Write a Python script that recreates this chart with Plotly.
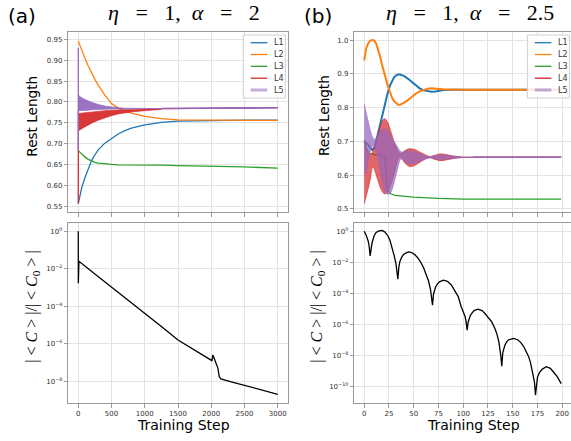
import plotly.graph_objects as go

W, H = 571, 441

# ---------------- Panel (a): eta = 1, alpha = 2 ----------------
a_steps = [0, 25, 50, 100, 150, 200, 250, 300, 400, 500, 600, 700, 800, 1000, 1250, 1500, 2000, 2500, 3000]
a_L1 = [0.555, 0.575, 0.593, 0.618, 0.640, 0.659, 0.673, 0.685, 0.701, 0.713, 0.723, 0.731, 0.737, 0.745, 0.751, 0.754, 0.7555, 0.756, 0.756]
a_L2 = [0.946, 0.935, 0.924, 0.905, 0.886, 0.869, 0.854, 0.840, 0.816, 0.796, 0.785, 0.778, 0.773, 0.765, 0.760, 0.757, 0.756, 0.7555, 0.7555]
a_L3 = [0.683, 0.679, 0.675, 0.668, 0.662, 0.658, 0.655, 0.653, 0.651, 0.650, 0.649, 0.649, 0.648, 0.648, 0.648, 0.647, 0.646, 0.644, 0.641]

a_band_steps = [2, 25, 50, 100, 150, 200, 300, 400, 500, 600, 700, 800, 1000, 1250]
a_L4_upper = [0.772, 0.772, 0.773, 0.774, 0.775, 0.776, 0.778, 0.779, 0.780, 0.781, 0.782, 0.782, 0.783, 0.7835]
a_L4_lower = [0.731, 0.733, 0.736, 0.741, 0.745, 0.749, 0.756, 0.762, 0.767, 0.771, 0.774, 0.776, 0.779, 0.782]
a_L5_upper = [0.816, 0.813, 0.810, 0.806, 0.802, 0.799, 0.794, 0.790, 0.788, 0.786, 0.785, 0.7845, 0.784, 0.784]
a_L5_lower = [0.779, 0.779, 0.7795, 0.780, 0.780, 0.781, 0.782, 0.782, 0.783, 0.783, 0.783, 0.7835, 0.784, 0.784]

a_spike_steps = [0, 1, 2]
a_L4_spike = [0.557, 0.780, 0.731]
a_L5_spike = [0.930, 0.684, 0.816]

a_tail_steps = [1250, 1500, 2000, 2500, 3000]
a_L45_tail = [0.784, 0.7845, 0.785, 0.7855, 0.786]

a_C_steps = [0, 1, 10, 250, 500, 750, 1000, 1250, 1500, 1750, 2010, 2025, 2045, 2060, 2085, 2100, 2120, 2145, 2300, 2500, 2750, 3000]
a_C_ratio = [1.0, 1.7e-3, 2.51e-2, 5.25e-3, 1.07e-3, 2.14e-4, 4.17e-5, 8.32e-6, 1.58e-6, 4.79e-7, 1.26e-7, 2.51e-7,
             1.58e-7, 1.0e-7, 7.08e-8, 5.01e-8, 1.78e-8, 1.32e-8, 9.33e-9, 6.03e-9, 3.55e-9, 2.0e-9]

# ---------------- Panel (b): eta = 1, alpha = 2.5 ----------------
b_L1_steps = [0, 4, 8, 10, 12, 14, 16, 18, 20, 22, 24, 26, 28, 30, 32, 34, 36, 38, 40, 44, 48, 52, 56, 60, 64, 68, 72, 76, 80, 90, 100, 150, 199]
b_L1 = [0.700, 0.690, 0.675, 0.680, 0.700, 0.725, 0.750, 0.775, 0.800, 0.825, 0.847, 0.865, 0.880, 0.889, 0.895, 0.898, 0.898, 0.897,
        0.894, 0.886, 0.876, 0.865, 0.857, 0.851, 0.848, 0.847, 0.848, 0.850, 0.852, 0.853, 0.853, 0.853, 0.853]
b_L2_steps = [0, 2, 4, 6, 8, 10, 12, 14, 16, 18, 20, 22, 24, 26, 28, 30, 32, 34, 36, 38, 40, 44, 48, 52, 56, 60, 64, 68, 72, 76, 80, 90, 100, 150, 199]
b_L2 = [0.940, 0.975, 0.990, 0.998, 1.000, 0.999, 0.990, 0.972, 0.952, 0.927, 0.903, 0.880, 0.863, 0.847, 0.830, 0.820, 0.813,
        0.809, 0.808, 0.810, 0.814, 0.822, 0.832, 0.841, 0.848, 0.853, 0.856, 0.857, 0.857, 0.855, 0.854, 0.853, 0.853, 0.853, 0.853]
b_L3_steps = [0, 3, 6, 10, 15, 19, 21, 22, 23, 25, 27, 31, 40, 50, 75, 100, 150, 199]
b_L3 = [0.700, 0.675, 0.664, 0.661, 0.660, 0.658, 0.655, 0.600, 0.565, 0.552, 0.545, 0.540, 0.537, 0.535, 0.531, 0.529, 0.529, 0.529]

b_band_steps = [0, 2, 4, 6, 8, 10, 12, 14, 16, 18, 20, 22, 24, 26, 28, 30, 32, 34, 36, 38, 40, 43, 46, 49, 52, 55, 58, 61, 64, 67,
                70, 73, 76, 79, 82, 85, 88, 91, 95, 100, 110]
b_L4_upper = [0.705, 0.680, 0.665, 0.660, 0.665, 0.680, 0.700, 0.725, 0.745, 0.760, 0.767, 0.765, 0.755, 0.740, 0.720, 0.700, 0.685,
              0.672, 0.665, 0.665, 0.670, 0.676, 0.679, 0.678, 0.675, 0.670, 0.665, 0.660, 0.657, 0.655, 0.658, 0.661, 0.663, 0.663,
              0.662, 0.660, 0.658, 0.656, 0.654, 0.6535, 0.653]
b_L4_lower = [0.515, 0.535, 0.560, 0.585, 0.625, 0.620, 0.600, 0.580, 0.565, 0.552, 0.545, 0.545, 0.550, 0.565, 0.580, 0.600, 0.625,
              0.645, 0.655, 0.650, 0.640, 0.630, 0.625, 0.626, 0.630, 0.636, 0.642, 0.647, 0.650, 0.652, 0.648, 0.645, 0.643, 0.643,
              0.644, 0.646, 0.648, 0.650, 0.652, 0.6525, 0.653]
b_L5_upper = [0.812, 0.790, 0.760, 0.735, 0.715, 0.705, 0.710, 0.720, 0.730, 0.735, 0.737, 0.735, 0.730, 0.720, 0.710, 0.700, 0.690,
              0.680, 0.672, 0.668, 0.670, 0.672, 0.672, 0.671, 0.668, 0.665, 0.662, 0.658, 0.656, 0.655, 0.657, 0.659, 0.660, 0.660,
              0.659, 0.657, 0.656, 0.655, 0.654, 0.6535, 0.653]
b_L5_lower = [0.600, 0.610, 0.640, 0.670, 0.685, 0.690, 0.670, 0.640, 0.610, 0.580, 0.560, 0.548, 0.542, 0.545, 0.555, 0.575, 0.600,
              0.625, 0.645, 0.648, 0.642, 0.635, 0.632, 0.633, 0.636, 0.640, 0.644, 0.648, 0.650, 0.651, 0.649, 0.647, 0.646, 0.646,
              0.647, 0.649, 0.650, 0.651, 0.652, 0.6525, 0.653]
b_tail_steps = [110, 150, 199]
b_L45_tail = [0.653, 0.653, 0.653]

b_C_steps = [0, 2, 4, 5, 6, 7, 8, 10, 12, 15, 18, 21, 24, 26, 28, 30, 32, 33, 34, 35, 36, 38, 40, 43, 45, 48, 51, 54, 57, 60, 63,
             65, 67, 68, 69, 70, 72, 74, 76, 80, 84, 88, 92, 95, 98, 100, 102, 103, 104, 105, 107, 109, 111, 115, 119, 122, 126,
             129, 132, 134, 136, 137, 138, 139, 140, 142, 144, 146, 151, 155, 158, 161, 164, 166, 168, 170, 172, 173, 174, 175,
             177, 180, 184, 188, 191, 195, 199]
b_C_ratio = [1.0, 5.62e-1, 2.40e-1, 1.12e-1, 2.63e-2, 7.94e-2, 1.91e-1, 5.01e-1, 8.32e-1, 1.07, 1.12, 8.91e-1, 5.01e-1, 2.63e-1,
             1.0e-1, 3.16e-2, 8.91e-3, 3.16e-3, 8.32e-4, 5.01e-3, 1.12e-2, 2.24e-2, 3.31e-2, 4.27e-2, 4.68e-2, 4.27e-2, 3.16e-2,
             2.00e-2, 1.05e-2, 4.47e-3, 1.41e-3, 6.31e-4, 1.78e-4, 6.31e-5, 1.78e-5, 8.91e-5, 2.51e-4, 4.17e-4, 5.62e-4, 7.08e-4,
             6.03e-4, 3.55e-4, 1.41e-4, 6.31e-5, 1.41e-5, 6.31e-6, 3.16e-6, 1.41e-6, 4.37e-7, 1.41e-6, 3.55e-6, 5.62e-6, 7.94e-6,
             9.77e-6, 7.94e-6, 5.13e-6, 2.51e-6, 1.41e-6, 5.62e-7, 2.51e-7, 7.94e-8, 3.16e-8, 1.0e-8, 2.09e-9, 1.58e-8, 4.47e-8,
             7.94e-8, 1.05e-7, 1.26e-7, 1.05e-7, 7.08e-8, 3.98e-8, 1.78e-8, 8.91e-9, 3.55e-9, 1.0e-9, 2.0e-10, 2.88e-11, 1.58e-10,
             3.98e-10, 7.94e-10, 1.35e-9, 1.91e-9, 1.51e-9, 9.12e-10, 4.47e-10, 1.58e-10]

# ---------------- Tick labels ----------------
a_x_ticks = [0, 500, 1000, 1500, 2000, 2500, 3000]
b_x_ticks = [0, 25, 50, 75, 100, 125, 150, 175, 200]
a_log_tickvals = [1, 1e-2, 1e-4, 1e-6, 1e-8]
a_log_ticktext = ["10<sup>0</sup>", "10<sup>−2</sup>", "10<sup>−4</sup>", "10<sup>−6</sup>", "10<sup>−8</sup>"]
b_log_tickvals = [1, 1e-2, 1e-4, 1e-6, 1e-8, 1e-10]
b_log_ticktext = ["10<sup>0</sup>", "10<sup>−2</sup>", "10<sup>−4</sup>", "10<sup>−6</sup>", "10<sup>−8</sup>", "10<sup>−10</sup>"]
legend_names = ["L1", "L2", "L3", "L4", "L5"]

C1, C2, C3, C4, C5 = "#1f77b4", "#ff7f0e", "#2ca02c", "#d62728", "#9467bd"


def px(x):
    return x / W


def py(y):
    return 1 - y / H


fig = go.Figure()


def line(x, y, color, xa, ya, width=1.3, **kw):
    fig.add_trace(go.Scatter(x=x, y=y, mode="lines", line=dict(color=color, width=width),
                             xaxis=xa, yaxis=ya, showlegend=False, hoverinfo="skip", **kw))


def band(x, up, lo, color, fill, xa, ya):
    line(x, up, color, xa, ya, width=0.6)
    line(x, lo, color, xa, ya, width=0.6, fill="tonexty", fillcolor=fill)


# Panel (a) top
line(a_steps, a_L1, C1, "x", "y")
line(a_steps, a_L2, C2, "x", "y")
line(a_steps, a_L3, C3, "x", "y")
line(a_spike_steps, a_L4_spike, C4, "x", "y")
band(a_band_steps, a_L4_upper, a_L4_lower, C4, "rgba(214,39,40,0.92)", "x", "y")
line(a_tail_steps, a_L45_tail, C4, "x", "y")
line(a_spike_steps, a_L5_spike, C5, "x", "y")
band(a_band_steps, a_L5_upper, a_L5_lower, C5, "rgba(148,103,189,0.92)", "x", "y")
line(a_tail_steps, a_L45_tail, C5, "x", "y", width=1.6)

# Panel (b) top
line(b_L1_steps, b_L1, C1, "x2", "y2", width=2.0)
line(b_L2_steps, b_L2, C2, "x2", "y2", width=2.0)
line(b_L3_steps, b_L3, C3, "x2", "y2")
band(b_band_steps, b_L4_upper, b_L4_lower, C4, "rgba(214,39,40,0.7)", "x2", "y2")
line(b_tail_steps, b_L45_tail, C4, "x2", "y2")
band(b_band_steps, b_L5_upper, b_L5_lower, "rgba(148,103,189,0.85)", "rgba(148,103,189,0.72)", "x2", "y2")
line(b_tail_steps, b_L45_tail, C5, "x2", "y2", width=1.6)

# Bottom panels
line(a_C_steps, a_C_ratio, "black", "x3", "y3", width=1.3)
line(b_C_steps, b_C_ratio, "black", "x4", "y4", width=1.3)

tickfont = dict(family="DejaVu Sans", size=7, color="#333333")
common_ax = dict(showline=True, linecolor="#999999", linewidth=1, ticks="outside", ticklen=3.5,
                 tickcolor="#999999", tickwidth=1, showgrid=True, gridcolor="#e3e3e3", gridwidth=1,
                 zeroline=False, tickfont=tickfont)

xa_dom = [px(68.3), px(287.7)]
xb_dom = [px(354.3), 1.0]
top_dom = [py(212.3), py(32.3)]
bot_dom = [py(403.3), py(223.3)]

fig.update_layout(
    width=W, height=H, margin=dict(l=0, r=0, t=0, b=0),
    paper_bgcolor="white", plot_bgcolor="white", showlegend=False,
    xaxis=dict(domain=xa_dom, anchor="y", range=[-150, 3150], tickvals=a_x_ticks, showticklabels=False,
               mirror=True, **common_ax),
    yaxis=dict(domain=top_dom, anchor="x", range=[0.535, 0.967], dtick=0.05, tick0=0.55, tickformat=".2f",
               mirror=True, **common_ax),
    xaxis2=dict(domain=xb_dom, anchor="y2", range=[-10, 208.9], tickvals=b_x_ticks, showticklabels=False,
                mirror=True, **common_ax),
    yaxis2=dict(domain=top_dom, anchor="x2", range=[0.49, 1.023], dtick=0.1, tick0=0.5, tickformat=".1f",
                mirror=False, **common_ax),
    xaxis3=dict(domain=xa_dom, anchor="y3", range=[-150, 3150], tickvals=a_x_ticks, mirror=True, **common_ax),
    yaxis3=dict(domain=bot_dom, anchor="x3", type="log", range=[-9.18, 0.43], tickvals=a_log_tickvals,
                ticktext=a_log_ticktext, mirror=True, **common_ax),
    xaxis4=dict(domain=xb_dom, anchor="y4", range=[-10, 208.9], tickvals=b_x_ticks, mirror=True, **common_ax),
    yaxis4=dict(domain=bot_dom, anchor="x4", type="log", range=[-11.07, 0.515], tickvals=b_log_tickvals,
                ticktext=b_log_ticktext, mirror=False, **common_ax),
)

ann = []


def text(x, y, s, size, family="DejaVu Sans", angle=0, xanchor="center", color="black"):
    ann.append(dict(x=px(x), y=py(y), xref="paper", yref="paper", text=s, showarrow=False,
                    font=dict(family=family, size=size, color=color), textangle=angle,
                    xanchor=xanchor, yanchor="middle"))


serif = "Liberation Serif"
text(22, 16, "(a)", 20)
text(317.5, 16, "(b)", 20)
s2 = "&nbsp;" * 2
s3 = "&nbsp;" * 3
text(183.5, 13, f"<i>η</i>{s3}={s3}1,{s2}<i>α</i>{s3}={s3}2", 22, family=serif)
text(470, 13, f"<i>η</i>{s3}={s3}1,{s2}<i>α</i>{s3}={s3}2.5", 22, family=serif)
text(31.7, 116, "Rest Length", 13.6, angle=-90)
text(324, 116, "Rest Length", 13.6, angle=-90)
sp = "&nbsp;"
ylab = f"|{sp}<{sp}<i>C</i>{sp}>{sp}|/|{sp}<{sp}<i>C</i><sub>0</sub>{sp}>{sp}|"
text(31.7, 307, ylab, 16, family=serif, angle=-90)
text(316.7, 307, ylab, 16, family=serif, angle=-90)
text(183.3, 425, "Training Step", 14)
text(473.3, 425, "Training Step", 14)

# Legends (drawn as boxes with sample lines)
shapes = []
legend_colors = [C1, C2, C3, C4, "rgba(148,103,189,0.55)"]
legend_widths = [1.3, 1.3, 1.3, 1.3, 3]
row_y = [42.7, 54.5, 66.3, 78.2, 90.0]
for (bx0, bx1, lx0, lx1, tx) in [(243.3, 285.3, 250.7, 267.3, 272.0), (527.4, 569.4, 534.8, 551.4, 556.2)]:
    shapes.append(dict(type="rect", xref="paper", yref="paper", x0=px(bx0), x1=px(bx1), y0=py(98), y1=py(35),
                       line=dict(color="#d0d0d0", width=1), fillcolor="rgba(255,255,255,0.85)", layer="above"))
    for name, col, lw, yy in zip(legend_names, legend_colors, legend_widths, row_y):
        shapes.append(dict(type="line", xref="paper", yref="paper", x0=px(lx0), x1=px(lx1), y0=py(yy), y1=py(yy),
                           line=dict(color=col, width=lw), layer="above"))
        text(tx, yy, name, 8, xanchor="left", color="#333333")

fig.update_layout(annotations=ann, shapes=shapes)
# Remove the default page margin so the figure sits at the window's top-left corner.
fig.write_html("out.html", config={"displayModeBar": False},
               post_script="document.body.style.margin='0';document.body.style.padding='0';"
                           "document.documentElement.style.overflow='hidden';")
